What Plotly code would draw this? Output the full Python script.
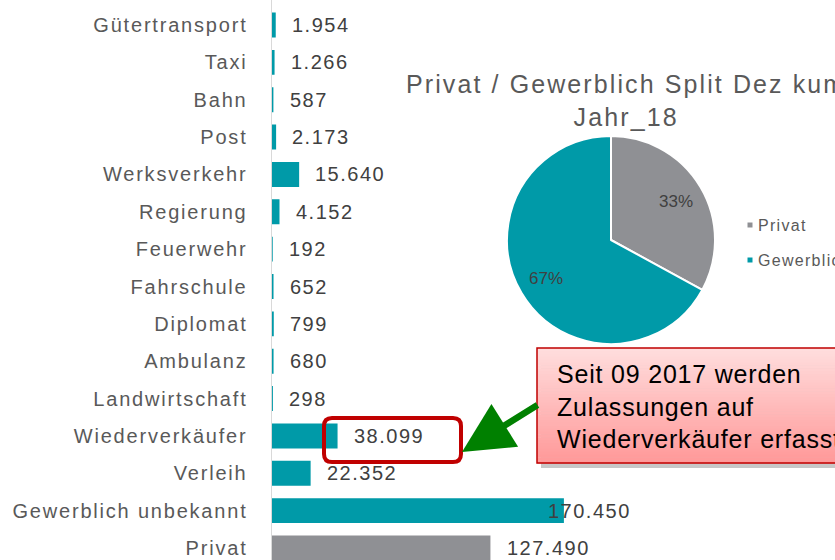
import math
import plotly.graph_objects as go

# ---------------- data ----------------
categories = ["Gütertransport", "Taxi", "Bahn", "Post", "Werksverkehr", "Regierung",
              "Feuerwehr", "Fahrschule", "Diplomat", "Ambulanz", "Landwirtschaft",
              "Wiederverkäufer", "Verleih", "Gewerblich unbekannt", "Privat"]
values = [1954, 1266, 587, 2173, 15640, 4152, 192, 652, 799, 680, 298,
          38099, 22352, 170450, 127490]

pie_labels = ["Privat", "Gewerblich"]
pie_values = [127490, 259294]

title_lines = ["Privat / Gewerblich Split Dez kum", "Jahr_18"]
note_lines = ["Seit 09 2017 werden", "Zulassungen auf", "Wiederverkäufer erfasst"]

# ---------------- style ----------------
W, H = 835, 560
TEAL = "#009AA8"
GREY = "#8F9094"
LABEL_C = "#595959"
VALUE_C = "#404040"
FONT = "Liberation Sans, Arial, sans-serif"


def px(x):
    return x / W


def py(y):
    return 1 - y / H


def spaced(t, s):
    return f'<span style="letter-spacing:{s}px">{t}</span>'


def de(v):
    return f"{v:,}".replace(",", ".")


bar_colors = [GREY if c == "Privat" else TEAL for c in categories]

fig = go.Figure()
fig.add_trace(go.Bar(
    x=values, y=categories, orientation="h",
    marker=dict(color=bar_colors, line=dict(color=bar_colors, width=1.8)),
    width=0.62, showlegend=False, hoverinfo="x+y",
))

# pie geometry (pixels)
pcx, pcy, pr = 611, 240, 104
fig.add_trace(go.Pie(
    labels=pie_labels, values=pie_values, sort=False, direction="clockwise",
    rotation=0, marker=dict(colors=[GREY, TEAL], line=dict(color="white", width=2)),
    textinfo="none", hoverinfo="label+percent",
    domain=dict(x=[px(pcx - pr), px(pcx + pr)], y=[py(pcy + pr), py(pcy - pr)]),
    showlegend=False,
))

axis0 = 271.5
scale = 0.0017102  # px per unit
xmax = (W - axis0) / scale

annotations = []
# value labels
label_shift = {"Gewerblich unbekannt": -17}
for c, v in zip(categories, values):
    annotations.append(dict(
        x=v, y=c, xref="x", yref="y", text=spaced(de(v), 1.5),
        showarrow=False, xanchor="left", yanchor="middle",
        xshift=label_shift.get(c, 15),
        font=dict(family=FONT, size=20, color=VALUE_C)))

# pie percentage labels, placed from the slice angles
total = sum(pie_values)
cum = 0
for v in pie_values:
    f = (cum + v / 2) / total
    cum += v
    th = 2 * math.pi * f
    k = 0.73
    annotations.append(dict(
        x=px(pcx + k * pr * math.sin(th)), y=py(pcy - k * pr * math.cos(th)),
        xref="paper", yref="paper", text=f"{round(100 * v / total)}%",
        showarrow=False, xanchor="center", yanchor="middle",
        font=dict(family=FONT, size=17, color=VALUE_C)))

# pie title
annotations.append(dict(
    x=px(626), y=py(100), xref="paper", yref="paper",
    text="<br>".join(spaced(t, 2.1) for t in title_lines),
    showarrow=False, xanchor="center", yanchor="middle", align="center",
    font=dict(family=FONT, size=25, color=LABEL_C)))

# legend texts
for lab, yy in zip(pie_labels, [225, 260]):
    annotations.append(dict(
        x=px(756), y=py(yy), xref="paper", yref="paper", text=spaced(lab, 1.3),
        showarrow=False, xanchor="left", yanchor="middle",
        font=dict(family=FONT, size=16, color=LABEL_C)))

# note text
annotations.append(dict(
    x=px(555), y=py(406), xref="paper", yref="paper",
    text="<br>".join(spaced(t, 0.8) for t in note_lines), showarrow=False,
    xanchor="left", yanchor="middle", align="left",
    font=dict(family=FONT, size=25, color="black")))

# green arrow
annotations.append(dict(
    x=px(462), y=py(452), xref="paper", yref="paper", text="",
    showarrow=True, ax=77, ay=-48, axref="pixel", ayref="pixel",
    arrowhead=2, arrowsize=1.55, arrowwidth=6.5, arrowcolor="#008000",
    standoff=0))

shapes = []
# legend squares
for col, yy in zip([GREY, TEAL], [225, 260]):
    shapes.append(dict(type="rect", xref="paper", yref="paper",
                       x0=px(747.5), x1=px(752.5), y0=py(yy + 2.5), y1=py(yy - 2.5),
                       fillcolor=col, line=dict(width=0)))

# note box: shadow, gradient, border
bx0, bx1, by0, by1 = 537, 845, 348, 463
shapes.append(dict(type="rect", xref="paper", yref="paper",
                   x0=px(bx0 + 4), x1=px(bx1 + 4), y0=py(by1 + 5), y1=py(by0 + 5),
                   fillcolor="rgba(0,0,0,0.22)", line=dict(width=0)))
n = 40
c_top = (255, 222, 222)
c_bot = (255, 152, 152)
for i in range(n):
    t = (i + 0.5) / n
    col = tuple(round(a + (b - a) * t) for a, b in zip(c_top, c_bot))
    y_a = by0 + (by1 - by0) * i / n
    y_b = by0 + (by1 - by0) * (i + 1) / n + 0.6
    shapes.append(dict(type="rect", xref="paper", yref="paper",
                       x0=px(bx0), x1=px(bx1), y0=py(y_b), y1=py(y_a),
                       fillcolor="rgb(%d,%d,%d)" % col, line=dict(width=0)))
shapes.append(dict(type="rect", xref="paper", yref="paper",
                   x0=px(bx0), x1=px(bx1), y0=py(by1), y1=py(by0),
                   fillcolor="rgba(0,0,0,0)", line=dict(color="#C00000", width=1.5)))

# rounded highlight around 38.099
rx0, rx1, ry0, ry1, r = 324, 461, 418, 462, 8
pts = [
    f"M {px(rx0 + r)},{py(ry0)}",
    f"L {px(rx1 - r)},{py(ry0)}",
    f"Q {px(rx1)},{py(ry0)} {px(rx1)},{py(ry0 + r)}",
    f"L {px(rx1)},{py(ry1 - r)}",
    f"Q {px(rx1)},{py(ry1)} {px(rx1 - r)},{py(ry1)}",
    f"L {px(rx0 + r)},{py(ry1)}",
    f"Q {px(rx0)},{py(ry1)} {px(rx0)},{py(ry1 - r)}",
    f"L {px(rx0)},{py(ry0 + r)}",
    f"Q {px(rx0)},{py(ry0)} {px(rx0 + r)},{py(ry0)} Z",
]
shapes.append(dict(type="path", xref="paper", yref="paper", path=" ".join(pts),
                   line=dict(color="#C00000", width=4)))

row0, row_step = 25, (548 - 25) / 14
y_top = -row0 / row_step
y_bot = (H - row0) / row_step

fig.update_layout(
    width=W, height=H, margin=dict(l=0, r=0, t=0, b=0),
    paper_bgcolor="white", plot_bgcolor="white",
    font=dict(family=FONT),
    xaxis=dict(domain=[px(axis0), 1], range=[0, xmax], visible=False,
               showgrid=False, zeroline=False),
    yaxis=dict(type="category", categoryorder="array", categoryarray=categories,
               range=[y_bot, y_top], showline=True, linecolor="#D9D9D9",
               linewidth=1, ticks="", showgrid=False, zeroline=False,
               tickmode="array", tickvals=categories,
               ticktext=[spaced(c, 1.8) for c in categories],
               tickfont=dict(family=FONT, size=20, color=LABEL_C),
               ticklabelstandoff=19),
    annotations=annotations, shapes=shapes,
)

fig.write_html("out.html", config={"displayModeBar": False},
               post_script="document.body.style.margin='0px';"
                           "document.body.style.overflow='hidden';")
